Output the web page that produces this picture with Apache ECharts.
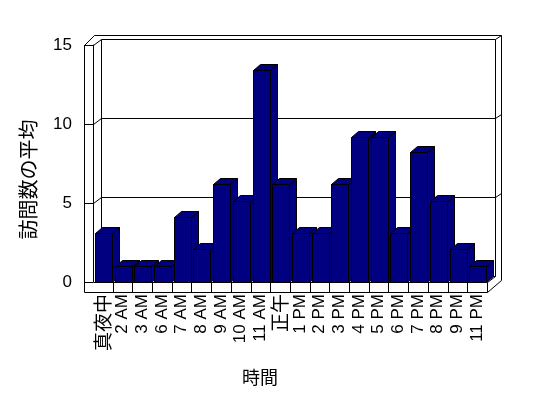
<!DOCTYPE html>
<html>
<head>
<meta charset="utf-8">
<script src="https://cdn.jsdelivr.net/npm/echarts@6/dist/echarts.min.js"></script>
<style>
  html, body { margin: 0; padding: 0; background: #fff; }
  #chart { width: 548px; height: 398px; }
</style>
</head>
<body>
<div id="chart"></div>
<script>
// 時間帯
const categories = ["真夜中", "2 AM", "3 AM", "6 AM", "7 AM", "8 AM", "9 AM", "10 AM", "11 AM", "正午",
  "1 PM", "2 PM", "3 PM", "4 PM", "5 PM", "6 PM", "7 PM", "8 PM", "9 PM", "11 PM"];
// 訪問数の平均
const visits = [3.1, 1.0, 1.0, 1.0, 4.1, 2.1, 6.2, 5.1, 13.4, 6.2,
  3.1, 3.1, 6.2, 9.2, 9.2, 3.1, 8.2, 5.1, 2.1, 1.0];
const yTicks = [0, 5, 10, 15];

const font = "'Liberation Sans', 'Noto Sans CJK JP', sans-serif";
const depth = [7, -6];      // 棒の奥行き
const wallDepth = [8, -6];  // 壁までの奥行き

function px(v) {
  return Math.round(v) + 0.5;
}

function seg(a, b) {
  return {
    type: "line",
    shape: { x1: px(a[0]), y1: px(a[1]), x2: px(b[0]), y2: px(b[1]) },
    style: { stroke: "#000", lineWidth: 1 }
  };
}

// 壁と床
function renderFrame(params, api) {
  const cs = params.coordSys;
  const x0 = cs.x, x1 = cs.x + cs.width;
  const yT = cs.y, yB = cs.y + cs.height;
  const dx = wallDepth[0], dy = wallDepth[1];
  const lx = x0 - 9;   // 左壁の外側
  const fb = yB + 10;  // 床の前面下端
  const children = [];

  children.push(seg([lx, fb], [lx, yT]));
  children.push(seg([lx, fb], [x1, fb]));
  children.push(seg([lx, yT], [x0, yT]));
  children.push(seg([lx, yT], [x0 + 1, yT - 10]));
  children.push(seg([x0 + 1, yT - 10], [x1 + 14, yT - 10]));
  children.push(seg([x1 + 14, yT - 10], [x1 + 14, fb - 12]));
  children.push(seg([x1, fb], [x1 + 14, fb - 12]));
  children.push(seg([x0, yT], [x0 + dx, yT + dy]));
  children.push(seg([x0 + dx, yT + dy], [x1 + dx, yT + dy]));
  children.push(seg([x1 + dx, yT + dy], [x1 + 14, yT - 10]));
  children.push(seg([x1 + dx, yT + dy], [x1 + dx, yB + dy]));
  children.push(seg([x0 + dx, yT + dy], [x0 + dx, yB + dy]));
  children.push(seg([x0 + dx, yB + dy], [x1 + dx, yB + dy]));
  children.push(seg([x1, yB], [x1 + dx, yB + dy]));
  children.push(seg([x0, yB], [x1, yB]));
  children.push(seg([x1, yB], [x1, fb]));

  // 目盛線（奥の壁）
  yTicks.forEach(function (t) {
    if (t === 0 || t === yTicks[yTicks.length - 1]) return;
    const y = api.coord([0, t])[1];
    children.push(seg([x0, y], [x0 + dx, y + dy]));
    children.push(seg([x0 + dx, y + dy], [x1 + dx, y + dy]));
    children.push(seg([x1 + dx, y + dy], [x1 + 14, y - 10]));
  });

  // 床の区切り
  const band = api.size([1, 0])[0];
  for (let i = 1; i < categories.length; i++) {
    const x = api.coord([i, 0])[0] - band / 2;
    children.push(seg([x, yB], [x, fb]));
  }
  return { type: "group", children: children };
}

// 3D 風の棒
function renderBar(params, api) {
  const i = api.value(0);
  const base = api.coord([i, 0]);
  const top = api.coord([i, api.value(1)]);
  const band = api.size([1, 0])[0];
  const xl = Math.round(base[0] - band / 2 + band * 0.1) + 0.5;
  const xr = Math.round(xl + band * 0.82) + 0.5;
  const yb = Math.round(base[1]) + 0.5;
  const yt = Math.round(top[1]) + 0.5;
  const dx = depth[0], dy = depth[1];
  const st = { fill: "#000080", stroke: "#000", lineWidth: 1 };
  return {
    type: "group",
    children: [
      { type: "polygon", shape: { points: [[xr, yt], [xr + dx, yt + dy], [xr + dx, yb + dy], [xr, yb]] }, style: st },
      { type: "polygon", shape: { points: [[xl, yt], [xr, yt], [xr + dx, yt + dy], [xl + dx, yt + dy]] }, style: st },
      { type: "rect", shape: { x: xl, y: yt, width: xr - xl, height: yb - yt }, style: st }
    ]
  };
}

const options = {
  animation: false,
  backgroundColor: "#fff",
  textStyle: { fontFamily: font },
  grid: { left: 93, right: 61, top: 45, bottom: 116 },
  xAxis: {
    type: "category",
    data: categories,
    name: "時間",
    nameLocation: "middle",
    nameGap: 88,
    nameTextStyle: { color: "#000", fontSize: 18, fontFamily: font, padding: [0, 60, 0, 0] },
    axisLine: { show: false },
    axisTick: { show: false },
    axisLabel: {
      rotate: 90,
      margin: 12,
      color: "#000",
      fontSize: 17,
      fontFamily: font,
      interval: 0,
      formatter: function (v) {
        return /[A-Z]/.test(v) ? v : "{cjk|" + v + "}";
      },
      rich: {
        cjk: { fontSize: 19, fontFamily: "'Noto Sans CJK JP', sans-serif", color: "#000" }
      }
    },
    splitLine: { show: false }
  },
  yAxis: {
    type: "value",
    min: 0,
    max: 15,
    interval: 5,
    name: "訪問数の平均",
    nameLocation: "middle",
    nameRotate: 90,
    nameGap: 53,
    nameTextStyle: { color: "#000", fontSize: 20, fontFamily: font, padding: [0, 32, 0, 0] },
    axisLine: { show: true, lineStyle: { color: "#000", width: 1 } },
    axisTick: { show: true, length: 9, lineStyle: { color: "#000", width: 1 } },
    axisLabel: { margin: 21, color: "#000", fontSize: 17, fontFamily: font },
    splitLine: { show: false }
  },
  series: [
    {
      type: "custom",
      renderItem: renderFrame,
      data: [[0, 0]],
      silent: true,
      z: 1
    },
    {
      type: "custom",
      renderItem: renderBar,
      encode: { x: 0, y: 1 },
      data: visits.map(function (v, i) { return [i, v]; }),
      z: 2
    }
  ]
};

const chart = echarts.init(document.getElementById("chart"));
chart.setOption(options);
</script>
</body>
</html>
